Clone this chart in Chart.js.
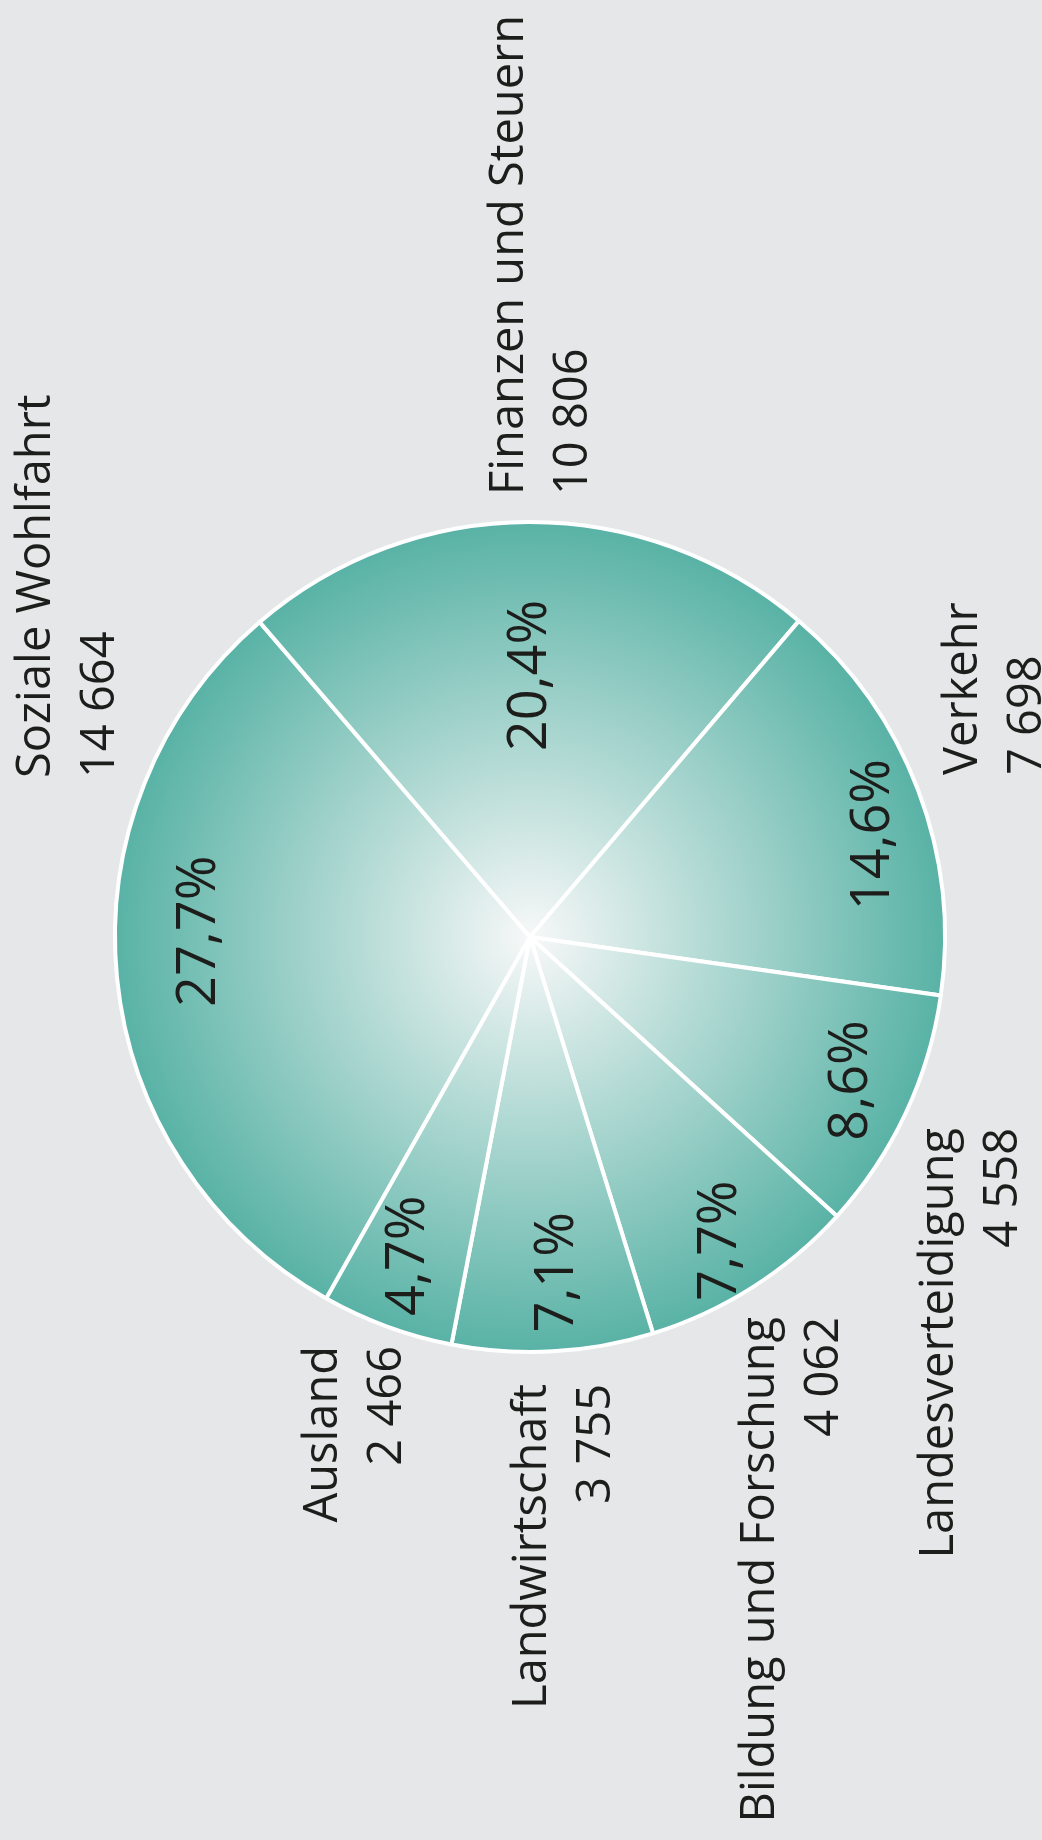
<!DOCTYPE html>
<html>
<head>
<meta charset="utf-8">
<script src="https://cdn.jsdelivr.net/npm/chart.js@4.4.0/dist/chart.umd.min.js"></script>
<style>
  html, body { margin: 0; padding: 0; background: #e6e7e9; }
  #wrap { width: 1042px; height: 1840px; }
</style>
</head>
<body>
<div id="wrap"><canvas id="pie" width="1042" height="1840"></canvas></div>
<script>
/* global Chart */

// Ausgaben nach Aufgabengebiet
const categories = ['Soziale Wohlfahrt', 'Finanzen und Steuern', 'Verkehr', 'Landesverteidigung',
  'Bildung und Forschung', 'Landwirtschaft', 'Ausland'];
const amounts = [14664, 10806, 7698, 4558, 4062, 3755, 2466];
const shares = [27.7, 20.4, 14.6, 8.6, 7.7, 7.1, 4.7];

// outer labels, relative to the pie centre (whole picture is turned 90deg)
const labelSpots = [
  { dx: -480, dy: -159, align: 'left' },
  { dx: -7, dy: -442, align: 'left' },
  { dx: 447, dy: -162, align: 'left' },
  { dx: 423, dy: 191, align: 'right' },
  { dx: 244, dy: 380, align: 'right' },
  { dx: 16, dy: 447, align: 'right' },
  { dx: -193, dy: 409, align: 'right' },
];
// percent labels: share of radius and a small turn off the slice middle
const pctSpots = [
  { r: 0.806, turn: 6.6 },
  { r: 0.63, turn: -0.6 },
  { r: 0.856, turn: 4 },
  { r: 0.84, turn: -0.9 },
  { r: 0.86, turn: 0.8 },
  { r: 0.81, turn: -0.9 },
  { r: 0.825, turn: 1.2 },
];

const fmtAmount = (v) => String(v).replace(/\B(?=(\d{3})+(?!\d))/g, ' ');
const fmtShare = (v) => v.toFixed(1).replace('.', ',') + '%';

const sliceText = {
  id: 'sliceText',
  afterDatasetsDraw(chart) {
    const ctx = chart.ctx;
    const arcs = chart.getDatasetMeta(0).data;
    const cx = arcs[0].x;
    const cy = arcs[0].y;
    const r = arcs[0].outerRadius;
    ctx.save();
    ctx.fillStyle = '#1d1d1b';
    arcs.forEach((arc, i) => {
      const mid = (arc.startAngle + arc.endAngle) / 2 + pctSpots[i].turn * Math.PI / 180;
      const rr = r * pctSpots[i].r;
      ctx.save();
      ctx.translate(cx + Math.cos(mid) * rr, cy + Math.sin(mid) * rr);
      ctx.rotate(-Math.PI / 2);
      ctx.font = '400 54px "Open Sans"';
      ctx.textAlign = 'center';
      ctx.textBaseline = 'alphabetic';
      ctx.fillText(fmtShare(shares[i]), 0, 19);
      ctx.restore();

      const spot = labelSpots[i];
      ctx.save();
      ctx.translate(cx + spot.dx, cy + spot.dy);
      ctx.rotate(-Math.PI / 2);
      ctx.font = '400 47px "Open Sans"';
      ctx.textAlign = spot.align;
      ctx.textBaseline = 'alphabetic';
      ctx.fillText(categories[i], 0, 0);
      ctx.fillText(fmtAmount(amounts[i]), 0, 64);
      ctx.restore();
    });
    ctx.restore();
  },
};

function tealFill(context) {
  const chart = context.chart;
  const area = chart.chartArea;
  if (!area) return '#8cc7be';
  const cx = (area.left + area.right) / 2;
  const cy = (area.top + area.bottom) / 2;
  const r = Math.min(area.right - area.left, area.bottom - area.top) / 2;
  const g = chart.ctx.createRadialGradient(cx, cy, 0, cx, cy, r);
  g.addColorStop(0, '#f7f8f8');
  g.addColorStop(1, '#58b2a5');
  return g;
}

const chart = new Chart(document.getElementById('pie'), {
  type: 'pie',
  data: {
    labels: categories,
    datasets: [{
      data: amounts,
      backgroundColor: tealFill,
      borderColor: '#ffffff',
      borderWidth: 4,
    }],
  },
  options: {
    responsive: false,
    animation: false,
    rotation: 209.4,
    layout: { padding: { left: 113, right: 95, top: 520, bottom: 486 } },
    plugins: {
      legend: { display: false },
      tooltip: { enabled: false },
    },
  },
  plugins: [sliceText],
});
</script>
</body>
</html>
